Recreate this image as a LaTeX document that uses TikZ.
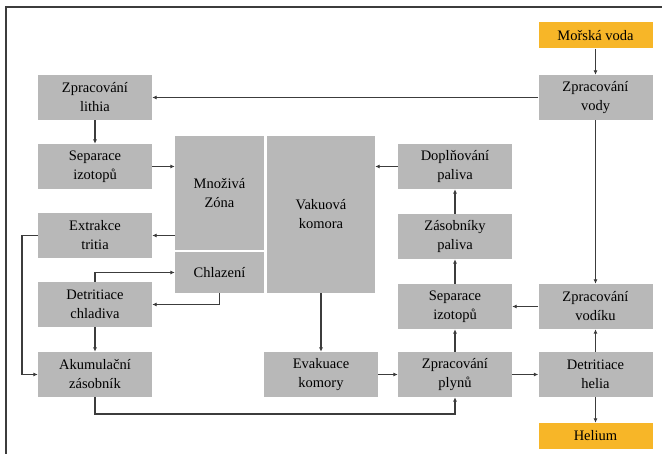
\documentclass[tikz,border=0pt]{standalone}
\usepackage{fontspec}
\setmainfont{Liberation Serif}
\usetikzlibrary{arrows.meta}

\definecolor{boxgray}{RGB}{184,184,184}
\definecolor{gold}{RGB}{247,182,40}
\definecolor{linegray}{RGB}{60,60,60}

\tikzset{
  blok/.style={fill=boxgray, minimum width=114pt, minimum height=45pt, inner sep=0pt,
    align=center, font=\fontsize{14.5}{19}\selectfont},
  vstup/.style={blok, fill=gold, minimum height=26pt},
  sipka/.style={draw=linegray, line width=1.4pt, -{Latex[length=4.5pt,width=4pt]}},
}

\begin{document}
\begin{tikzpicture}[x=1pt, y=-1pt]

\useasboundingbox (0,0) rectangle (662,454);
\path[draw, linegray, line width=1.5pt] (662,7) -- (6,7) -- (6,454);


\node[vstup] (mv) at (595.5,35.5) {Mořská voda};
\node[blok] (zv) at (595.5,97.5) {Zpracování\\vody};
\node[blok] (zl) at (95,97.5) {Zpracování\\lithia};
\node[blok] (sil) at (95,166.5) {Separace\\izotopů};
\node[blok] (et) at (95,235.5) {Extrakce\\tritia};
\node[blok] (dc) at (95,304.5) {Detritiace\\chladiva};
\node[blok] (ak) at (95,374.5) {Akumulační\\zásobník};

\node[blok, minimum width=89pt, minimum height=114pt] (mz) at (219.5,193) {Množivá\\Zóna};
\node[blok, minimum width=89pt, minimum height=41pt] (ch) at (219.5,272.5) {Chlazení};
\node[blok, minimum width=108pt, minimum height=157pt] (vk) at (321,214.5) {Vakuová\\komora};

\node[blok] (ek) at (321,374.5) {Evakuace\\komory};
\node[blok] (zp) at (455,374.5) {Zpracování\\plynů};
\node[blok] (dh) at (595.5,374.5) {Detritiace\\helia};
\node[vstup] (he) at (595.5,436) {Helium};

\node[blok] (dp) at (455,166.5) {Doplňování\\paliva};
\node[blok] (zb) at (455,236.5) {Zásobníky\\paliva};
\node[blok] (sir) at (455,306.5) {Separace\\izotopů};
\node[blok] (zvd) at (595.5,306.5) {Zpracování\\vodíku};


\path[sipka] (mv) -- (zv);
\path[sipka] (zv) -- (zl);
\path[sipka] (zl) -- (sil);
\path[sipka] (sil.east) -- (sil.east -| mz.west);
\path[sipka] (mz.west |- et.east) -- (et.east);
\path[sipka] (et.west) -- ++(-16,0) |- (ak.west);
\path[sipka] (dc.north) |- (ch.west);
\path[sipka] (ch.south) |- (dc.east);
\path[sipka] (dc) -- (ak);
\path[sipka] (ak.south) -- ++(0,17) -| (zp.south);

\path[sipka] (vk.south) -- (vk.south |- ek.north);
\path[sipka] (ek) -- (zp);
\path[sipka] (zp) -- (dh);
\path[sipka] (zp) -- (sir);
\path[sipka] (dh) -- (zvd);
\path[sipka] (dh) -- (he);
\path[sipka] (zvd) -- (sir);
\path[sipka] (sir) -- (zb);
\path[sipka] (zb) -- (dp);
\path[sipka] (dp.west) -- (dp.west -| vk.east);
\path[sipka] (zv) -- (zvd);

\end{tikzpicture}
\end{document}
